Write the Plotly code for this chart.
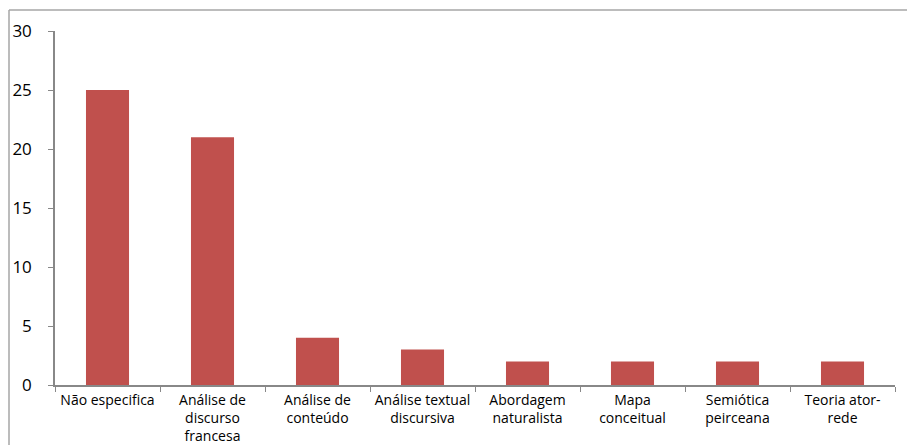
import plotly.graph_objects as go

categories = ["Não especifica", "Análise de<br>discurso<br>francesa", "Análise de<br>conteúdo",
              "Análise textual<br>discursiva", "Abordagem<br>naturalista", "Mapa<br>conceitual",
              "Semiótica<br>peirceana", "Teoria ator-<br>rede"]
values = [25, 21, 4, 3, 2, 2, 2, 2]
y_ticks = [0, 5, 10, 15, 20, 25, 30]

fig = go.Figure(go.Bar(x=categories, y=values, marker_color="#C0504D", marker_line_width=0))

# page body has an 8px margin, so the figure is sized/offset accordingly
W, H = 907, 437
ml, mr, mt, mb = 47, 20, 23, 60
pw, ph = W - ml - mr, H - mt - mb

bx = (1 - ml) / pw
by = (H - mb - 2) / ph

fig.update_layout(
    width=W, height=H,
    margin=dict(l=ml, r=mr, t=mt, b=mb, autoexpand=False),
    paper_bgcolor="white", plot_bgcolor="white",
    bargap=0.59,
    showlegend=False,
    font=dict(family="Open Sans", color="black"),
    xaxis=dict(
        type="category", tickson="boundaries", ticks="outside", ticklen=5,
        tickcolor="#888888", showline=True, linecolor="#888888", linewidth=1.5,
        showgrid=False, tickfont=dict(size=14), tickangle=0, ticklabelstandoff=1,
        automargin=False,
    ),
    yaxis=dict(
        range=[0, 30], tickvals=y_ticks, ticks="outside", ticklen=5,
        tickcolor="#888888", showline=True, linecolor="#888888", linewidth=1.5,
        showgrid=False, zeroline=False, tickfont=dict(size=17), ticklabelstandoff=13,
        automargin=False,
    ),
    shapes=[
        dict(type="line", xref="paper", yref="paper",
             x0=bx, x1=1.2, y0=by, y1=by,
             line=dict(color="#A6A6A6", width=1.5)),
        dict(type="line", xref="paper", yref="paper",
             x0=bx, x1=bx, y0=by, y1=-0.3,
             line=dict(color="#A6A6A6", width=1.5)),
    ],
)

fig.write_html("out.html")
